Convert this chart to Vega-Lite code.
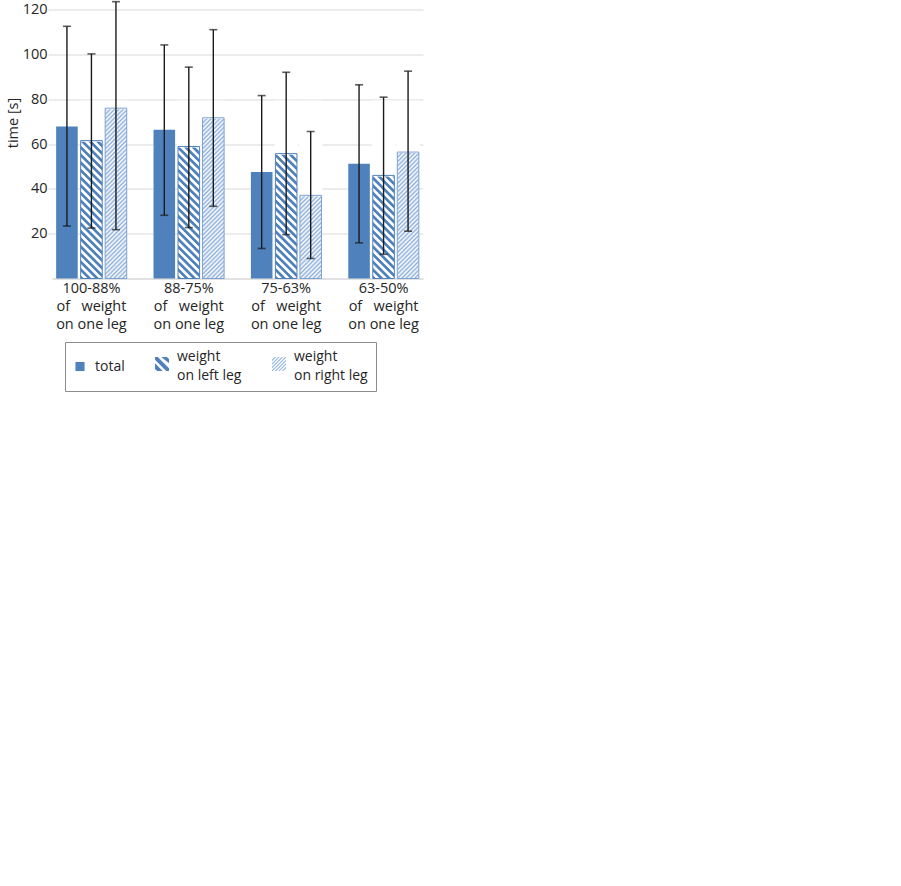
{
  "$schema": "https://vega.github.io/schema/vega-lite/v6.json",
  "width": 371,
  "height": 269,
  "autosize": {"type": "none"},
  "padding": {"left": 52, "top": 9.5, "right": 478, "bottom": 607.5},
  "background": "#ffffff",
  "config": {
    "view": {"stroke": null},
    "font": "Open Sans",
    "style": {"guide-label": {"lineHeight": 19}}
  },
  "data": {
    "values": [
      {"group": "100-88%|of\u00a0\u00a0\u00a0weight|on one leg", "series": "total", "value": 67.8, "lo": 23.4, "hi": 112.5},
      {"group": "100-88%|of\u00a0\u00a0\u00a0weight|on one leg", "series": "weight|on left leg", "value": 61.5, "lo": 22.5, "hi": 100.2},
      {"group": "100-88%|of\u00a0\u00a0\u00a0weight|on one leg", "series": "weight|on right leg", "value": 76.0, "lo": 21.8, "hi": 123.5},
      {"group": "88-75%|of\u00a0\u00a0\u00a0weight|on one leg", "series": "total", "value": 66.4, "lo": 28.2, "hi": 104.2},
      {"group": "88-75%|of\u00a0\u00a0\u00a0weight|on one leg", "series": "weight|on left leg", "value": 58.9, "lo": 22.7, "hi": 94.3},
      {"group": "88-75%|of\u00a0\u00a0\u00a0weight|on one leg", "series": "weight|on right leg", "value": 71.7, "lo": 32.2, "hi": 111.0},
      {"group": "75-63%|of\u00a0\u00a0\u00a0weight|on one leg", "series": "total", "value": 47.5, "lo": 13.4, "hi": 81.6},
      {"group": "75-63%|of\u00a0\u00a0\u00a0weight|on one leg", "series": "weight|on left leg", "value": 55.7, "lo": 19.6, "hi": 92.0},
      {"group": "75-63%|of\u00a0\u00a0\u00a0weight|on one leg", "series": "weight|on right leg", "value": 37.1, "lo": 8.9, "hi": 65.6},
      {"group": "63-50%|of\u00a0\u00a0\u00a0weight|on one leg", "series": "total", "value": 51.2, "lo": 15.9, "hi": 86.4},
      {"group": "63-50%|of\u00a0\u00a0\u00a0weight|on one leg", "series": "weight|on left leg", "value": 46.0, "lo": 10.8, "hi": 80.9},
      {"group": "63-50%|of\u00a0\u00a0\u00a0weight|on one leg", "series": "weight|on right leg", "value": 56.4, "lo": 21.1, "hi": 92.5}
    ]
  },
  "encoding": {
    "x": {
      "field": "group",
      "type": "nominal",
      "sort": null,
      "title": null,
      "scale": {"paddingInner": 0.25, "paddingOuter": 0.03},
      "axis": {
        "labelExpr": "split(datum.label, '|')",
        "labelAngle": 0,
        "labelFontSize": 14.5,
        "labelLineHeight": 18,
        "labelColor": "#262626",
        "labelPadding": 3,
        "labelBaseline": "top",
        "ticks": false,
        "domain": true,
        "domainColor": "#c4c4c4",
        "domainWidth": 1.2
      }
    },
    "xOffset": {
      "field": "series",
      "type": "nominal",
      "scale": {"domain": ["total", "weight|on left leg", "weight|on right leg"], "paddingInner": 0.12, "paddingOuter": 0.05}
    }
  },
  "layer": [
    {
      "transform": [{"filter": "datum.series == 'weight|on left leg'"}],
      "mark": {
        "type": "bar",
        "fill": {
          "gradient": "linear", "x1": 0, "y1": 1, "x2": 0.1346, "y2": -0.1054,
          "stops": [
            {"offset": 0, "color": "#4f81bd"}, {"offset": 0.0135, "color": "#4f81bd"}, {"offset": 0.0192, "color": "#ffffff"}, {"offset": 0.0327, "color": "#ffffff"},
            {"offset": 0.0385, "color": "#4f81bd"}, {"offset": 0.0519, "color": "#4f81bd"}, {"offset": 0.0577, "color": "#ffffff"}, {"offset": 0.0712, "color": "#ffffff"},
            {"offset": 0.0769, "color": "#4f81bd"}, {"offset": 0.0904, "color": "#4f81bd"}, {"offset": 0.0962, "color": "#ffffff"}, {"offset": 0.1096, "color": "#ffffff"},
            {"offset": 0.1154, "color": "#4f81bd"}, {"offset": 0.1288, "color": "#4f81bd"}, {"offset": 0.1346, "color": "#ffffff"}, {"offset": 0.1481, "color": "#ffffff"},
            {"offset": 0.1538, "color": "#4f81bd"}, {"offset": 0.1673, "color": "#4f81bd"}, {"offset": 0.1731, "color": "#ffffff"}, {"offset": 0.1865, "color": "#ffffff"},
            {"offset": 0.1923, "color": "#4f81bd"}, {"offset": 0.2058, "color": "#4f81bd"}, {"offset": 0.2115, "color": "#ffffff"}, {"offset": 0.2250, "color": "#ffffff"},
            {"offset": 0.2308, "color": "#4f81bd"}, {"offset": 0.2442, "color": "#4f81bd"}, {"offset": 0.2500, "color": "#ffffff"}, {"offset": 0.2635, "color": "#ffffff"},
            {"offset": 0.2692, "color": "#4f81bd"}, {"offset": 0.2827, "color": "#4f81bd"}, {"offset": 0.2885, "color": "#ffffff"}, {"offset": 0.3019, "color": "#ffffff"},
            {"offset": 0.3077, "color": "#4f81bd"}, {"offset": 0.3212, "color": "#4f81bd"}, {"offset": 0.3269, "color": "#ffffff"}, {"offset": 0.3404, "color": "#ffffff"},
            {"offset": 0.3462, "color": "#4f81bd"}, {"offset": 0.3596, "color": "#4f81bd"}, {"offset": 0.3654, "color": "#ffffff"}, {"offset": 0.3788, "color": "#ffffff"},
            {"offset": 0.3846, "color": "#4f81bd"}, {"offset": 0.3981, "color": "#4f81bd"}, {"offset": 0.4038, "color": "#ffffff"}, {"offset": 0.4173, "color": "#ffffff"},
            {"offset": 0.4231, "color": "#4f81bd"}, {"offset": 0.4365, "color": "#4f81bd"}, {"offset": 0.4423, "color": "#ffffff"}, {"offset": 0.4558, "color": "#ffffff"},
            {"offset": 0.4615, "color": "#4f81bd"}, {"offset": 0.4750, "color": "#4f81bd"}, {"offset": 0.4808, "color": "#ffffff"}, {"offset": 0.4942, "color": "#ffffff"},
            {"offset": 0.5000, "color": "#4f81bd"}, {"offset": 0.5135, "color": "#4f81bd"}, {"offset": 0.5192, "color": "#ffffff"}, {"offset": 0.5327, "color": "#ffffff"},
            {"offset": 0.5385, "color": "#4f81bd"}, {"offset": 0.5519, "color": "#4f81bd"}, {"offset": 0.5577, "color": "#ffffff"}, {"offset": 0.5712, "color": "#ffffff"},
            {"offset": 0.5769, "color": "#4f81bd"}, {"offset": 0.5904, "color": "#4f81bd"}, {"offset": 0.5962, "color": "#ffffff"}, {"offset": 0.6096, "color": "#ffffff"},
            {"offset": 0.6154, "color": "#4f81bd"}, {"offset": 0.6288, "color": "#4f81bd"}, {"offset": 0.6346, "color": "#ffffff"}, {"offset": 0.6481, "color": "#ffffff"},
            {"offset": 0.6538, "color": "#4f81bd"}, {"offset": 0.6673, "color": "#4f81bd"}, {"offset": 0.6731, "color": "#ffffff"}, {"offset": 0.6865, "color": "#ffffff"},
            {"offset": 0.6923, "color": "#4f81bd"}, {"offset": 0.7058, "color": "#4f81bd"}, {"offset": 0.7115, "color": "#ffffff"}, {"offset": 0.7250, "color": "#ffffff"},
            {"offset": 0.7308, "color": "#4f81bd"}, {"offset": 0.7442, "color": "#4f81bd"}, {"offset": 0.7500, "color": "#ffffff"}, {"offset": 0.7635, "color": "#ffffff"},
            {"offset": 0.7692, "color": "#4f81bd"}, {"offset": 0.7827, "color": "#4f81bd"}, {"offset": 0.7885, "color": "#ffffff"}, {"offset": 0.8019, "color": "#ffffff"},
            {"offset": 0.8077, "color": "#4f81bd"}, {"offset": 0.8212, "color": "#4f81bd"}, {"offset": 0.8269, "color": "#ffffff"}, {"offset": 0.8404, "color": "#ffffff"},
            {"offset": 0.8462, "color": "#4f81bd"}, {"offset": 0.8596, "color": "#4f81bd"}, {"offset": 0.8654, "color": "#ffffff"}, {"offset": 0.8788, "color": "#ffffff"},
            {"offset": 0.8846, "color": "#4f81bd"}, {"offset": 0.8981, "color": "#4f81bd"}, {"offset": 0.9038, "color": "#ffffff"}, {"offset": 0.9173, "color": "#ffffff"},
            {"offset": 0.9231, "color": "#4f81bd"}, {"offset": 0.9365, "color": "#4f81bd"}, {"offset": 0.9423, "color": "#ffffff"}, {"offset": 0.9558, "color": "#ffffff"},
            {"offset": 0.9615, "color": "#4f81bd"}, {"offset": 0.9750, "color": "#4f81bd"}, {"offset": 0.9808, "color": "#ffffff"}, {"offset": 0.9942, "color": "#ffffff"},
            {"offset": 1, "color": "#4f81bd"}
          ]
        }
      },
      "encoding": {
        "y": {"datum": 79, "type": "quantitative", "title": "time [s]"},
        "y2": {"datum": 0}
      }
    },
    {
      "transform": [{"filter": "datum.series == 'weight|on right leg'"}],
      "mark": {
        "type": "bar",
        "fill": {
          "gradient": "linear", "x1": 0, "y1": 0, "x2": 0.1346, "y2": 1.1054,
          "stops": [
            {"offset": 0, "color": "#8fb0dc"}, {"offset": 0.0109, "color": "#ffffff"}, {"offset": 0.0217, "color": "#8fb0dc"}, {"offset": 0.0326, "color": "#ffffff"},
            {"offset": 0.0435, "color": "#8fb0dc"}, {"offset": 0.0543, "color": "#ffffff"}, {"offset": 0.0652, "color": "#8fb0dc"}, {"offset": 0.0761, "color": "#ffffff"},
            {"offset": 0.0870, "color": "#8fb0dc"}, {"offset": 0.0978, "color": "#ffffff"}, {"offset": 0.1087, "color": "#8fb0dc"}, {"offset": 0.1196, "color": "#ffffff"},
            {"offset": 0.1304, "color": "#8fb0dc"}, {"offset": 0.1413, "color": "#ffffff"}, {"offset": 0.1522, "color": "#8fb0dc"}, {"offset": 0.1630, "color": "#ffffff"},
            {"offset": 0.1739, "color": "#8fb0dc"}, {"offset": 0.1848, "color": "#ffffff"}, {"offset": 0.1957, "color": "#8fb0dc"}, {"offset": 0.2065, "color": "#ffffff"},
            {"offset": 0.2174, "color": "#8fb0dc"}, {"offset": 0.2283, "color": "#ffffff"}, {"offset": 0.2391, "color": "#8fb0dc"}, {"offset": 0.2500, "color": "#ffffff"},
            {"offset": 0.2609, "color": "#8fb0dc"}, {"offset": 0.2717, "color": "#ffffff"}, {"offset": 0.2826, "color": "#8fb0dc"}, {"offset": 0.2935, "color": "#ffffff"},
            {"offset": 0.3043, "color": "#8fb0dc"}, {"offset": 0.3152, "color": "#ffffff"}, {"offset": 0.3261, "color": "#8fb0dc"}, {"offset": 0.3370, "color": "#ffffff"},
            {"offset": 0.3478, "color": "#8fb0dc"}, {"offset": 0.3587, "color": "#ffffff"}, {"offset": 0.3696, "color": "#8fb0dc"}, {"offset": 0.3804, "color": "#ffffff"},
            {"offset": 0.3913, "color": "#8fb0dc"}, {"offset": 0.4022, "color": "#ffffff"}, {"offset": 0.4130, "color": "#8fb0dc"}, {"offset": 0.4239, "color": "#ffffff"},
            {"offset": 0.4348, "color": "#8fb0dc"}, {"offset": 0.4457, "color": "#ffffff"}, {"offset": 0.4565, "color": "#8fb0dc"}, {"offset": 0.4674, "color": "#ffffff"},
            {"offset": 0.4783, "color": "#8fb0dc"}, {"offset": 0.4891, "color": "#ffffff"}, {"offset": 0.5000, "color": "#8fb0dc"}, {"offset": 0.5109, "color": "#ffffff"},
            {"offset": 0.5217, "color": "#8fb0dc"}, {"offset": 0.5326, "color": "#ffffff"}, {"offset": 0.5435, "color": "#8fb0dc"}, {"offset": 0.5543, "color": "#ffffff"},
            {"offset": 0.5652, "color": "#8fb0dc"}, {"offset": 0.5761, "color": "#ffffff"}, {"offset": 0.5870, "color": "#8fb0dc"}, {"offset": 0.5978, "color": "#ffffff"},
            {"offset": 0.6087, "color": "#8fb0dc"}, {"offset": 0.6196, "color": "#ffffff"}, {"offset": 0.6304, "color": "#8fb0dc"}, {"offset": 0.6413, "color": "#ffffff"},
            {"offset": 0.6522, "color": "#8fb0dc"}, {"offset": 0.6630, "color": "#ffffff"}, {"offset": 0.6739, "color": "#8fb0dc"}, {"offset": 0.6848, "color": "#ffffff"},
            {"offset": 0.6957, "color": "#8fb0dc"}, {"offset": 0.7065, "color": "#ffffff"}, {"offset": 0.7174, "color": "#8fb0dc"}, {"offset": 0.7283, "color": "#ffffff"},
            {"offset": 0.7391, "color": "#8fb0dc"}, {"offset": 0.7500, "color": "#ffffff"}, {"offset": 0.7609, "color": "#8fb0dc"}, {"offset": 0.7717, "color": "#ffffff"},
            {"offset": 0.7826, "color": "#8fb0dc"}, {"offset": 0.7935, "color": "#ffffff"}, {"offset": 0.8043, "color": "#8fb0dc"}, {"offset": 0.8152, "color": "#ffffff"},
            {"offset": 0.8261, "color": "#8fb0dc"}, {"offset": 0.8370, "color": "#ffffff"}, {"offset": 0.8478, "color": "#8fb0dc"}, {"offset": 0.8587, "color": "#ffffff"},
            {"offset": 0.8696, "color": "#8fb0dc"}, {"offset": 0.8804, "color": "#ffffff"}, {"offset": 0.8913, "color": "#8fb0dc"}, {"offset": 0.9022, "color": "#ffffff"},
            {"offset": 0.9130, "color": "#8fb0dc"}, {"offset": 0.9239, "color": "#ffffff"}, {"offset": 0.9348, "color": "#8fb0dc"}, {"offset": 0.9457, "color": "#ffffff"},
            {"offset": 0.9565, "color": "#8fb0dc"}, {"offset": 0.9674, "color": "#ffffff"}, {"offset": 0.9783, "color": "#8fb0dc"}, {"offset": 0.9891, "color": "#ffffff"},
            {"offset": 1, "color": "#8fb0dc"}
          ]
        }
      },
      "encoding": {
        "y": {"datum": 79, "type": "quantitative", "title": "time [s]"},
        "y2": {"datum": 0}
      }
    },
    {
      "transform": [{"filter": "datum.series != 'total'"}],
      "mark": {"type": "bar", "fill": "#ffffff", "stroke": "#ffffff", "strokeWidth": 2},
      "encoding": {
        "y": {"field": "value", "type": "quantitative", "title": "time [s]"},
        "y2": {"datum": 79}
      }
    },
    {
      "transform": [{"filter": "datum.series != 'total'"}],
      "mark": {"type": "bar", "fill": "transparent", "strokeWidth": 1},
      "encoding": {
        "y": {"field": "value", "type": "quantitative", "title": "time [s]"},
        "stroke": {
          "condition": {"test": "datum.series == 'weight|on left leg'", "value": "#4f81bd"},
          "value": "#7ea2d3"
        }
      }
    },
    {
      "transform": [{"filter": "datum.series == 'total'"}],
      "mark": {"type": "bar", "fill": "#4f81bd"},
      "encoding": {
        "y": {
          "field": "value",
          "type": "quantitative",
          "title": "time [s]",
          "scale": {"domain": [0, 120], "nice": false},
          "axis": {
            "values": [20, 40, 60, 80, 100, 120],
            "labelFontSize": 14.5,
            "labelColor": "#262626",
            "labelPadding": 1,
            "ticks": true,
            "tickSize": 4,
            "tickColor": "#d9d9d9",
            "domain": false,
            "grid": true,
            "gridColor": "#d9d9d9",
            "gridWidth": 1,
            "titleFontSize": 14.5,
            "titleFontWeight": "normal",
            "titleColor": "#262626",
            "titlePadding": 2,
            "titleY": 113
          }
        }
      }
    },
    {
      "transform": [{"filter": "false"}],
      "mark": {"type": "point", "filled": true, "strokeWidth": 0, "opacity": 1},
      "encoding": {
        "y": {"field": "value", "type": "quantitative", "title": "time [s]"},
        "fill": {
          "field": "series",
          "type": "nominal",
          "scale": {
            "domain": ["total", "weight|on left leg", "weight|on right leg"],
            "range": ["#4f81bd", "#4f81bd", "#8fb0dc"]
          },
          "legend": {
            "title": null,
            "orient": "none",
            "legendX": 13,
            "legendY": 332.5,
            "direction": "horizontal",
            "symbolSize": 196,
            "symbolStrokeWidth": 0,
            "symbolOpacity": 1,
            "labelExpr": "split(datum.label, '|')",
            "labelFontSize": 14,
            "labelColor": "#262626",
            "labelOffset": 8,
            "columnPadding": 30,
            "padding": 8,
            "strokeColor": "#8c8c8c",
            "labelLimit": 200
          }
        },
        "shape": {
          "field": "series",
          "type": "nominal",
          "scale": {
            "domain": ["total", "weight|on left leg", "weight|on right leg"],
            "range": [
              "M-0.65,-0.65H0.65V0.65H-0.65Z",
              "M-1,0.9L0.1,2L-0.7,2L-1,1.7Z M-1,0L-0.6,0L1,1.6L1,2L0.6,2L-1,0.4Z M-0.1,0L0.7,0L1,0.3L1,0.9Z",
              "M-1,0.4L-0.6,0L-0.4,0L-1,0.6Z M-1,0.9L-0.1,0L0.1,0L-1,1.1Z M-1,1.4L0.4,0L0.6,0L-1,1.6Z M-1,1.9L0.9,0L1,0L1,0.1L-0.9,2L-1,2Z M1,0.4L1,0.6L-0.4,2L-0.6,2Z M1,0.9L1,1.1L0.1,2L-0.1,2Z M1,1.4L1,1.6L0.6,2L0.4,2Z"
            ]
          },
          "legend": {
            "title": null,
            "orient": "none",
            "legendX": 13,
            "legendY": 332.5,
            "direction": "horizontal",
            "symbolSize": 196,
            "symbolStrokeWidth": 0,
            "symbolOpacity": 1,
            "labelExpr": "split(datum.label, '|')",
            "labelFontSize": 14,
            "labelColor": "#262626",
            "labelOffset": 8,
            "columnPadding": 30,
            "padding": 8,
            "strokeColor": "#8c8c8c",
            "labelLimit": 200
          }
        }
      }
    },
    {
      "mark": {"type": "rule", "color": "#1a1a1a", "strokeWidth": 1.4},
      "encoding": {
        "y": {"field": "lo", "type": "quantitative", "title": "time [s]"},
        "y2": {"field": "hi"}
      }
    },
    {
      "mark": {"type": "tick", "color": "#1a1a1a", "size": 8, "thickness": 1.6},
      "encoding": {
        "y": {"field": "lo", "type": "quantitative", "title": "time [s]"}
      }
    },
    {
      "mark": {"type": "tick", "color": "#1a1a1a", "size": 8, "thickness": 1.6},
      "encoding": {
        "y": {"field": "hi", "type": "quantitative", "title": "time [s]"}
      }
    }
  ]
}
